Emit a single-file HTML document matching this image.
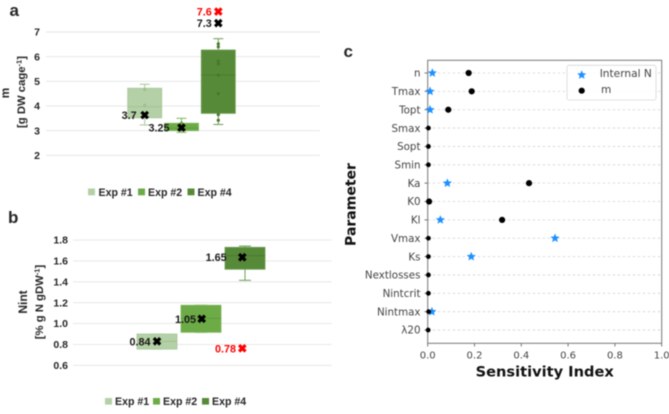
<!DOCTYPE html>
<html>
<head>
<meta charset="utf-8">
<style>
html,body{margin:0;padding:0;background:#fff;width:669px;height:414px;overflow:hidden}
svg{display:block;filter:blur(0.4px)}
.bold{font-family:"Liberation Sans",sans-serif;font-weight:700;fill:#262626}
.mpl{font-family:"DejaVu Sans",sans-serif;fill:#444}
</style>
</head>
<body>
<svg id="fig" xmlns="http://www.w3.org/2000/svg" width="669" height="414" viewBox="0 0 669 414"></svg>
<script>
const seriesNames = ['Exp #1', 'Exp #2', 'Exp #4'];

const mTicks = [2, 3, 4, 5, 6, 7];
const mQ1 = [3.52, 3.0, 3.7];
const mQ3 = [4.72, 3.3, 6.27];
const mMedian = [3.97, 3.1, 5.25];
const mWhiskerLow = [3.23, 2.93, 3.25];
const mWhiskerHigh = [4.88, 3.5, 6.73];
const mMean = [4.03, 3.14, 5.05];
const mPointsExp1 = [4.67, 4.03];
const mPointsExp2 = [3.3, 3.05];
const mPointsExp4 = [3.42, 3.65, 4.5, 5.25, 5.7, 5.82, 6.4, 6.52];
const mObserved = [3.63, 3.12, 7.36];
const mObservedLabels = ['3.7', '3.25', '7.3'];
const mOutlier = [null, null, 7.83];
const mOutlierLabels = ['', '', '7.6'];

const nTicks = ['0.6', '0.8', '1.0', '1.2', '1.4', '1.6', '1.8'];
const nQ1 = [0.755, 0.916, 1.52];
const nQ3 = [0.90, 1.175, 1.73];
const nMedian = [0.83, 1.05, 1.65];
const nWhiskerLow = [0.755, 0.916, 1.414];
const nWhiskerHigh = [0.90, 1.175, 1.742];
const nObserved = [0.83, 1.045, 1.635];
const nObservedLabels = ['0.84', '1.05', '1.65'];
const nOutlier = [null, null, 0.763];
const nOutlierLabels = ['', '', '0.78'];

const parameters = ['n', 'Tmax', 'Topt', 'Smax', 'Sopt', 'Smin', 'Ka', 'K0', 'Kl', 'Vmax', 'Ks', 'Nextlosses', 'Nintcrit', 'Nintmax', 'λ20'];
const internalN = [0.02, 0.01, 0.01, null, null, null, 0.084, null, 0.054, 0.544, 0.186, null, null, 0.018, null];
const mIndex = [0.175, 0.188, 0.088, 0.003, 0.003, 0.003, 0.433, 0.006, 0.318, 0.003, 0.003, 0.003, 0.003, 0.004, 0.002];
const sensTicks = ['0.0', '0.2', '0.4', '0.6', '0.8', '1.0'];

const fills = ['#b4d0a6', '#6dab47', '#578a38'];
const edges = ['#a6c698', '#7ab45a', '#6c9c52'];
const darks = ['#9dbf8e', '#5c9a3a', '#47782c'];

const NS = 'http://www.w3.org/2000/svg';
const fig = document.getElementById('fig');

function line(x1, y1, x2, y2, stroke, w, name, dash) {
  const el = document.createElementNS(NS, 'line');
  el.setAttribute('x1', x1); el.setAttribute('y1', y1);
  el.setAttribute('x2', x2); el.setAttribute('y2', y2);
  el.setAttribute('stroke', stroke); el.setAttribute('stroke-width', w);
  if (dash) el.setAttribute('stroke-dasharray', dash);
  
  
  fig.appendChild(el);
  return el;
}
function rect(x, y, w, h, fill, stroke, name) {
  const el = document.createElementNS(NS, 'rect');
  el.setAttribute('x', x); el.setAttribute('y', y);
  el.setAttribute('width', w); el.setAttribute('height', h);
  el.setAttribute('fill', fill);
  if (stroke) { el.setAttribute('stroke', stroke); el.setAttribute('stroke-width', 0.8); }
  
  
  fig.appendChild(el);
  return el;
}
function circle(cx, cy, r, fill, name) {
  const el = document.createElementNS(NS, 'circle');
  el.setAttribute('cx', cx); el.setAttribute('cy', cy); el.setAttribute('r', r);
  el.setAttribute('fill', fill);
  
  
  fig.appendChild(el);
  return el;
}
function text(x, y, str, cls, size, anchor, name, fill, rot) {
  const el = document.createElementNS(NS, 'text');
  el.setAttribute('x', x); el.setAttribute('y', y);
  el.setAttribute('class', cls);
  el.setAttribute('font-size', size);
  el.setAttribute('text-anchor', anchor);
  if (fill) el.style.fill = fill;
  if (rot) el.setAttribute('transform', 'rotate(-90 ' + x + ' ' + y + ')');
  el.textContent = str;
  
  
  fig.appendChild(el);
  return el;
}
function cross(cx, cy, color, name) {
  const el = document.createElementNS(NS, 'path');
  const s = 3.2;
  el.setAttribute('d', 'M' + (cx - s) + ' ' + (cy - s) + 'L' + (cx + s) + ' ' + (cy + s) + 'M' + (cx - s) + ' ' + (cy + s) + 'L' + (cx + s) + ' ' + (cy - s));
  el.setAttribute('stroke', color);
  el.setAttribute('stroke-width', 3.2);
  el.setAttribute('fill', 'none');
  
  
  fig.appendChild(el);
  return el;
}
function star(cx, cy, r, fill, name) {
  const pts = [];
  for (let k = 0; k < 10; k++) {
    const a = -Math.PI / 2 + k * Math.PI / 5;
    const rad = k % 2 ? r * 0.45 : r;
    pts.push((cx + rad * Math.cos(a)).toFixed(2) + ',' + (cy + rad * Math.sin(a)).toFixed(2));
  }
  const el = document.createElementNS(NS, 'polygon');
  el.setAttribute('points', pts.join(' '));
  el.setAttribute('fill', fill);
  
  
  fig.appendChild(el);
  return el;
}

/* axis functions */
const yA = v => 155.3 - (v - 2) * 24.66;
const xA = i => 144.7 + 36.8 * i;
const yB = v => 365.3 - (v - 0.6) * 104.4;
const xB = i => 157 + 44 * i;
const xC = v => 427.7 + v * 234;
const yC = i => 73 + i * 18.36;
const bObsShift = [0, 0.7, -2.7];

/* panel letters */
text(9.5, 16, 'a', 'bold', 17, 'start', 'panel-label-a');
text(8, 223, 'b', 'bold', 17, 'start', 'panel-label-b');
text(343.5, 57, 'c', 'bold', 17, 'start', 'panel-label-c');

/* panel a */
mTicks.forEach(t => {
  line(46, yA(t), 320, yA(t), '#e4e4e4', 0.9, 'm-gridline-' + t);
  text(40, yA(t) + 3.7, String(t), 'bold', 10.5, 'end', 'm-tick-label-' + t);
});
text(9, 93, 'm', 'bold', 12, 'middle', 'm-axis-title', null, true);
text(25, 92, '', 'bold', 11.3, 'middle', 'm-axis-unit', null, true);
fig.lastChild.innerHTML = '[g DW cage<tspan font-size="7.5" dy="-3.5">-1</tspan><tspan dy="3.5">]</tspan>';

const mPointSets = [mPointsExp1, mPointsExp2, mPointsExp4];
seriesNames.forEach((s, i) => {
  const id = 'm-exp' + (i === 2 ? 4 : i + 1);
  const c = xA(i), w = 34;
  line(c, yA(mWhiskerLow[i]), c, yA(mWhiskerHigh[i]), edges[i], 1, id + '-whisker');
  line(c - 5, yA(mWhiskerLow[i]), c + 5, yA(mWhiskerLow[i]), edges[i], 1, id + '-whisker-low-cap');
  line(c - 5, yA(mWhiskerHigh[i]), c + 5, yA(mWhiskerHigh[i]), edges[i], 1, id + '-whisker-high-cap');
  rect(c - w / 2, yA(mQ3[i]), w, yA(mQ1[i]) - yA(mQ3[i]), fills[i], edges[i], id + '-box');
  line(c - w / 2, yA(mMedian[i]), c + w / 2, yA(mMedian[i]), darks[i], 0.8, id + '-median');
  mPointSets[i].forEach((p, k) => circle(c, yA(p), 1.6, darks[i], id + '-point-' + k));
});
seriesNames.forEach((s, i) => {
  const c = xA(i);
  const gaps = [8, 12, 6.5];
  cross(c, yA(mObserved[i]), '#000', 'm-observed-marker-' + i);
  text(c - gaps[i], yA(mObserved[i]) + 4, mObservedLabels[i], 'bold', 10.8, 'end', 'm-observed-label-' + i, '#1a1a1a');
  if (mOutlier[i] !== null) {
    cross(c, yA(mOutlier[i]), '#f00', 'm-outlier-marker-' + i);
    text(c - gaps[i], yA(mOutlier[i]) + 4, mOutlierLabels[i], 'bold', 10.8, 'end', 'm-outlier-label-' + i, '#f00');
  }
});
const legAx = [88, 138, 187.5], legAt = [98.5, 148, 197.5];
seriesNames.forEach((s, i) => {
  rect(legAx[i], 188.5, 7, 6.8, fills[i], null, 'm-legend-swatch-' + i);
  text(legAt[i], 196, s, 'bold', 10.6, 'start', 'm-legend-entry-' + i);
});

/* panel b */
nTicks.forEach(t => {
  const v = parseFloat(t);
  line(73, yB(v), 331.5, yB(v), '#e4e4e4', 0.9, 'nint-gridline-' + t);
  text(68, yB(v) + 3.7, t, 'bold', 10.5, 'end', 'nint-tick-label-' + t);
});
text(27, 302, 'Nint', 'bold', 12, 'middle', 'nint-axis-title', null, true);
text(43, 302, '', 'bold', 11.3, 'middle', 'nint-axis-unit', null, true);
fig.lastChild.innerHTML = '[% g N gDW<tspan font-size="7.5" dy="-3.5">-1</tspan><tspan dy="3.5">]</tspan>';

seriesNames.forEach((s, i) => {
  const id = 'nint-exp' + (i === 2 ? 4 : i + 1);
  const c = xB(i), w = 40;
  line(c, yB(nWhiskerLow[i]), c, yB(nWhiskerHigh[i]), edges[i], 1, id + '-whisker');
  line(c - 6, yB(nWhiskerLow[i]), c + 6, yB(nWhiskerLow[i]), edges[i], 1, id + '-whisker-low-cap');
  line(c - 6, yB(nWhiskerHigh[i]), c + 6, yB(nWhiskerHigh[i]), edges[i], 1, id + '-whisker-high-cap');
  rect(c - w / 2, yB(nQ3[i]), w, yB(nQ1[i]) - yB(nQ3[i]), fills[i], edges[i], id + '-box');
  line(c - w / 2, yB(nMedian[i]), c + w / 2, yB(nMedian[i]), darks[i], 0.8, id + '-median');
});
seriesNames.forEach((s, i) => {
  const c = xB(i) + bObsShift[i];
  const gaps = [6.5, 5.7, 15.6];
  cross(c, yB(nObserved[i]), '#000', 'nint-observed-marker-' + i);
  text(c - gaps[i], yB(nObserved[i]) + 4, nObservedLabels[i], 'bold', 10.8, 'end', 'nint-observed-label-' + i, '#1a1a1a');
  if (nOutlier[i] !== null) {
    cross(c, yB(nOutlier[i]), '#f00', 'nint-outlier-marker-' + i);
    text(c - 6.3, yB(nOutlier[i]) + 4, nOutlierLabels[i], 'bold', 10.8, 'end', 'nint-outlier-label-' + i, '#f00');
  }
});
const legBx = [105, 153, 202], legBt = [115, 163, 212];
seriesNames.forEach((s, i) => {
  rect(legBx[i], 398, 7, 6.6, fills[i], null, 'nint-legend-swatch-' + i);
  text(legBt[i], 405, s, 'bold', 10.6, 'start', 'nint-legend-entry-' + i);
});

/* panel c */
parameters.forEach((p, i) => {
  line(427.7, yC(i), 661.7, yC(i), '#d4d4d4', 0.8, 'sensitivity-gridline-' + i, '2.5 2.5');
  line(424.5, yC(i), 427.7, yC(i), '#555', 0.8, 'sensitivity-tick-' + i);
  text(420.5, yC(i) + 3.7, p, 'mpl', 10.3, 'end', 'parameter-label-' + i);
});
sensTicks.forEach(t => {
  const v = parseFloat(t);
  line(xC(v), 343.3, xC(v), 346.5, '#555', 0.8, 'x-tick-' + t);
  text(xC(v), 358.5, t, 'mpl', 10, 'middle', 'x-tick-label-' + t);
});
const frame = rect(427.7, 60.3, 234, 283, 'none', '#777', 'sensitivity-plot-frame');
frame.setAttribute('stroke-width', 1);

parameters.forEach((p, i) => {
  if (internalN[i] !== null) star(xC(internalN[i]), yC(i), 4.8, '#1e90ff', 'internal-n-' + p);
});
parameters.forEach((p, i) => {
  circle(xC(mIndex[i]), yC(i), mIndex[i] < 0.005 ? 2.4 : 3.1, '#000', 'm-index-' + p);
});

const yTitle = text(355.5, 204.5, 'Parameter', 'mpl', 14, 'middle', 'y-axis-title', '#111', true);
yTitle.style.fontWeight = '700';

const xTitle = text(544.7, 376.5, 'Sensitivity Index', 'mpl', 14.6, 'middle', 'x-axis-title', '#111');
xTitle.style.fontWeight = '700';

const legBox = rect(567, 65.3, 89, 34.7, '#fff', '#d8d8d8', 'sensitivity-legend');
legBox.setAttribute('rx', 2);
legBox.setAttribute('fill-opacity', 0.85);
star(581.7, 75, 4.8, '#1e90ff', 'legend-star-internal-n');
circle(581.7, 90.7, 3.1, '#000', 'legend-dot-m');
text(599.7, 77, 'Internal N', 'mpl', 10.6, 'start', 'legend-entry-internal-n');
text(601, 93, 'm', 'mpl', 10.6, 'start', 'legend-entry-m');
</script>
</body>
</html>
